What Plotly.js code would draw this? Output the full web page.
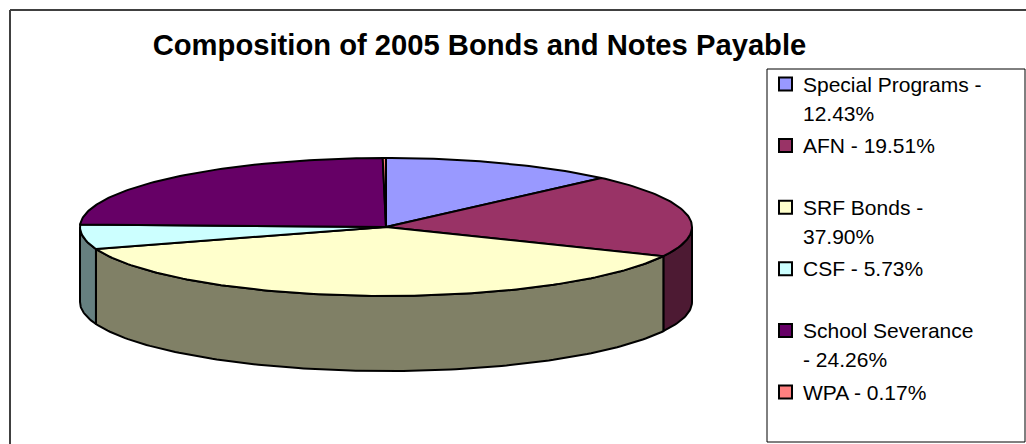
<!DOCTYPE html>
<html>
<head>
<meta charset="utf-8">
<script src="https://cdn.plot.ly/plotly-3.0.1.min.js"></script>
<style>html,body{margin:0;padding:0;background:#fff;}#chart{width:1026px;height:444px;}</style>
</head>
<body>
<div id="chart"></div>
<script>
// ---- data ----
const labels = ['Special Programs', 'AFN', 'SRF Bonds', 'CSF', 'School Severance', 'WPA'];
const values = [12.43, 19.51, 37.90, 5.73, 24.26, 0.17];
const topColors = ['#9999FF', '#993366', '#FFFFCC', '#CCFFFF', '#660066', '#FF8080'];
const sideColors = ['#4D4D80', '#4D1A33', '#808066', '#668080', '#330033', '#804040'];
const legendLines = [
  ['Special Programs -', '12.43%'],
  ['AFN - 19.51%'],
  ['SRF Bonds -', '37.90%'],
  ['CSF - 5.73%'],
  ['School Severance', '- 24.26%'],
  ['WPA - 0.17%']
];
const titleText = 'Composition of 2005 Bonds and Notes Payable';

// ---- geometry (pixel-mapped axes) ----
const W = 1026, H = 444;
const cx = 386, cy = 227, rx = 306, ry = 69, depth = 75;
const FONT = 'Liberation Sans, Arial, sans-serif';

function pt(deg, dy) {
  const t = deg * Math.PI / 180;
  return [cx + rx * Math.sin(t), cy - ry * Math.cos(t) + (dy || 0)];
}
function arc(a, b, dy) {
  const n = Math.max(2, Math.ceil(Math.abs(b - a) / 1));
  const out = [];
  for (let k = 0; k <= n; k++) out.push(pt(a + (b - a) * k / n, dy));
  return out;
}

const total = values.reduce((s, v) => s + v, 0);
const starts = [], ends = [];
let acc = 0;
values.forEach(v => { starts.push(acc / total * 360); acc += v; ends.push(acc / total * 360); });

const traces = [];
// walls (front half: 90..270 deg)
values.forEach((v, i) => {
  const a = Math.max(starts[i], 90), b = Math.min(ends[i], 270);
  if (b <= a) return;
  const top = arc(a, b, 0);
  const bot = arc(b, a, depth);
  const poly = top.concat(bot);
  poly.push(top[0]);
  traces.push({
    type: 'scatter', mode: 'lines', x: poly.map(p => p[0]), y: poly.map(p => p[1]),
    fill: 'toself', fillcolor: sideColors[i], line: {color: '#000', width: 2},
    hoverinfo: 'skip', showlegend: false
  });
});
// top faces
values.forEach((v, i) => {
  const poly = [[cx, cy]].concat(arc(starts[i], ends[i], 0));
  poly.push([cx, cy]);
  traces.push({
    type: 'scatter', mode: 'lines', x: poly.map(p => p[0]), y: poly.map(p => p[1]),
    fill: 'toself', fillcolor: topColors[i], line: {color: '#000', width: 2},
    hoverinfo: 'text', text: labels[i] + ': ' + values[i].toFixed(2) + '%', showlegend: false
  });
});

// ---- legend (box + swatches + text) ----
const shapes = [
  {type: 'line', xref: 'x', yref: 'y', x0: 10, y0: 10, x1: W + 5, y1: 10, line: {color: '#404040', width: 2}},
  {type: 'line', xref: 'x', yref: 'y', x0: 10, y0: 10, x1: 10, y1: H + 5, line: {color: '#404040', width: 2}},
  {type: 'rect', xref: 'x', yref: 'y', x0: 767, y0: 69, x1: 1025, y1: 442, line: {color: '#000', width: 1}, fillcolor: 'rgba(0,0,0,0)'}
];
const annotations = [];
const legTop = 84, legStep = 61.6, lineStep = 29;
legendLines.forEach((lines, i) => {
  const yc = legTop + i * legStep;
  shapes.push({type: 'rect', xref: 'x', yref: 'y', x0: 779, x1: 792, y0: yc - 6.5, y1: yc + 6.5,
    fillcolor: topColors[i], line: {color: '#000', width: 2}});
  lines.forEach((t, j) => {
    annotations.push({xref: 'x', yref: 'y', x: 801, y: yc + j * lineStep, text: t, showarrow: false,
      xanchor: 'left', yanchor: 'middle', font: {family: FONT, size: 21, color: '#000'}});
  });
});

const layout = {
  width: W, height: H,
  margin: {l: 0, r: 0, t: 0, b: 0},
  paper_bgcolor: '#fff', plot_bgcolor: '#fff',
  xaxis: {range: [0, W], visible: false, fixedrange: true},
  yaxis: {range: [H, 0], visible: false, fixedrange: true},
  title: {text: '<b>' + titleText + '</b>', x: 479.5 / W, xanchor: 'center', xref: 'paper',
    y: 1 - 45 / H, yanchor: 'middle', yref: 'container',
    font: {family: FONT, size: 29.2, color: '#000'}},
  shapes: shapes,
  annotations: annotations,
  showlegend: false
};

Plotly.newPlot('chart', traces, layout, {displayModeBar: false, staticPlot: false});
</script>
</body>
</html>
